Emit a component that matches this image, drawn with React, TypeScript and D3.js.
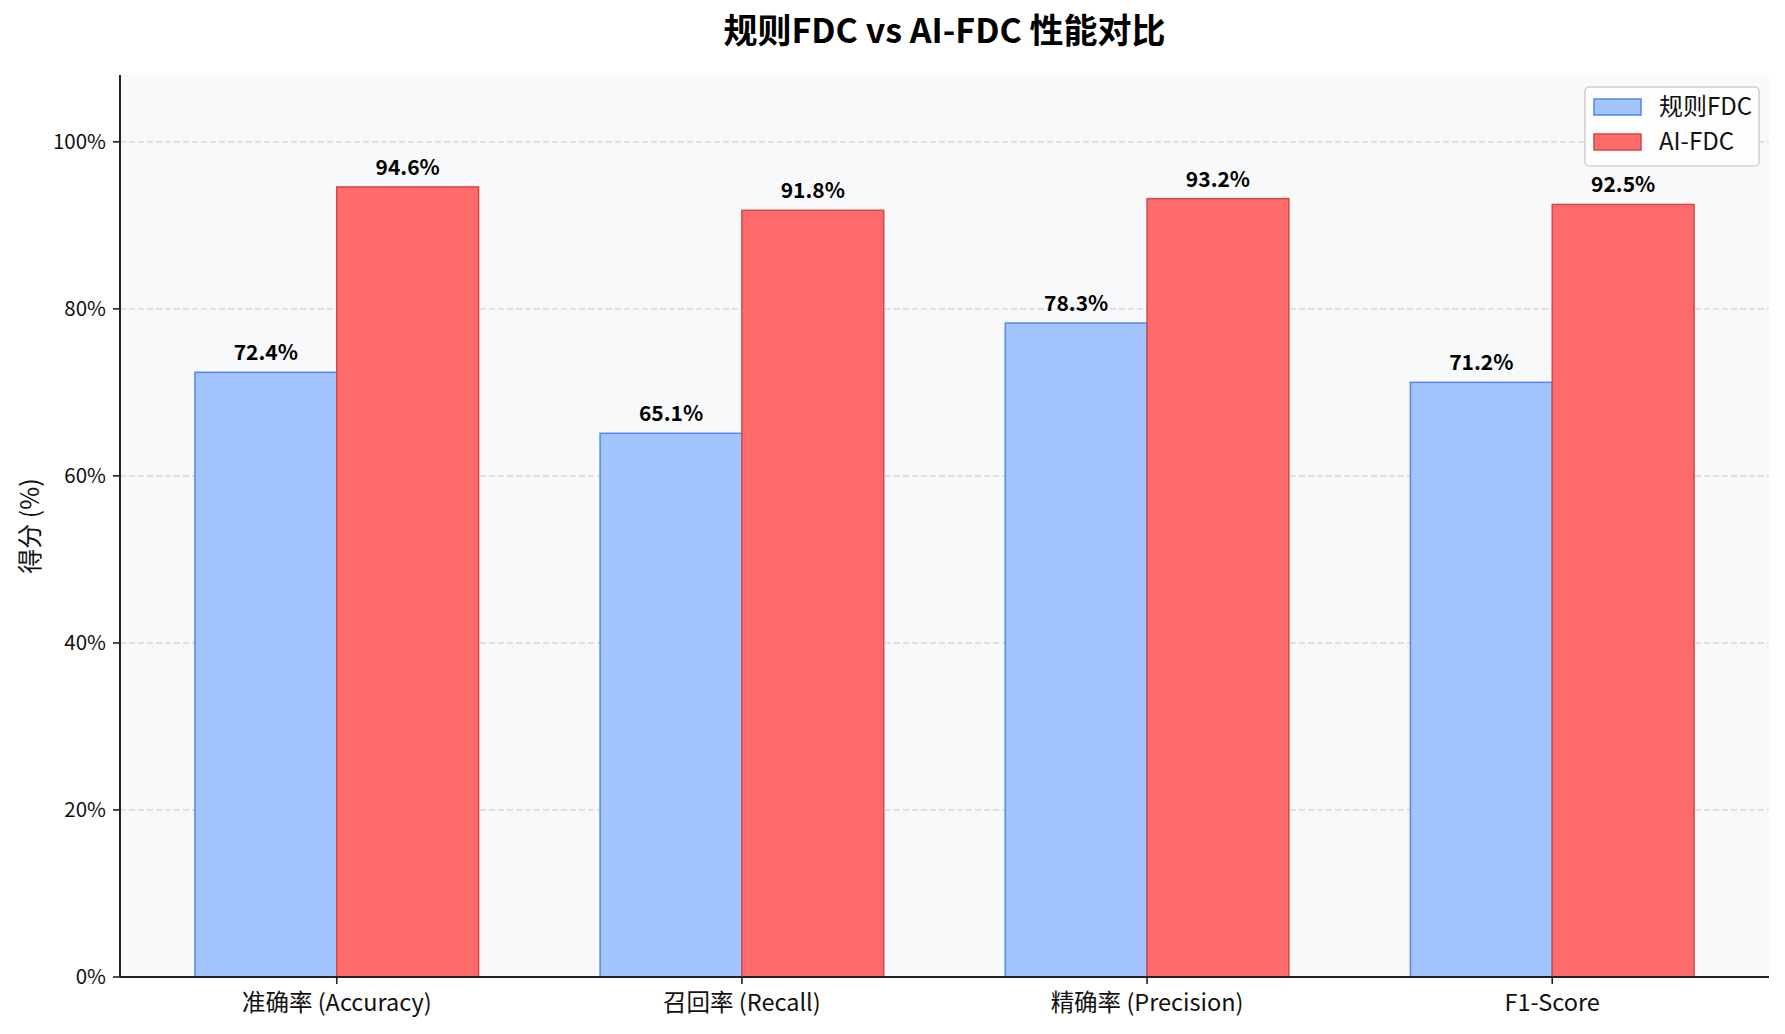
import React, { useEffect, useRef } from 'react';
import * as d3 from 'd3';

const categories = ['准确率 (Accuracy)', '召回率 (Recall)', '精确率 (Precision)', 'F1-Score'];
const ruleValues = [72.4, 65.1, 78.3, 71.2];
const aiValues = [94.6, 91.8, 93.2, 92.5];
const seriesNames = ['规则FDC', 'AI-FDC'];
const yTicks = [0, 20, 40, 60, 80, 100];

const FONT = '"Noto Sans CJK SC", "Noto Sans", sans-serif';
const BLUE = { fill: '#A2C4FF', stroke: '#4F86F0' };
const RED = { fill: '#FF6B6B', stroke: '#D04848' };

export default function App() {
  const svgRef = useRef<SVGSVGElement>(null);

  useEffect(() => {
    if (!svgRef.current) return;
    const width = 1785;
    const height = 1034;
    const margin = { left: 120, right: 16, top: 75, bottom: 57 };
    const barW = 0.35;

    const svg = d3.select(svgRef.current);
    svg.selectAll('*').remove();
    svg.attr('width', width).attr('height', height);

    svg.append('rect').attr('width', width).attr('height', height).attr('fill', '#ffffff');

    // escalas
    const x = d3.scaleLinear()
      .domain([-0.535, categories.length - 1 + 0.535])
      .range([margin.left, width - margin.right]);
    const y = d3.scaleLinear()
      .domain([0, 108])
      .range([height - margin.bottom, margin.top]);

    // fondo del área
    svg.append('rect')
      .attr('x', x.range()[0])
      .attr('y', margin.top)
      .attr('width', x.range()[1] - x.range()[0])
      .attr('height', y(0) - margin.top)
      .attr('fill', '#F8F9FA');

    // rejilla
    svg.append('g')
      .selectAll('line')
      .data(yTicks)
      .join('line')
      .attr('x1', x.range()[0])
      .attr('x2', x.range()[1])
      .attr('y1', d => y(d))
      .attr('y2', d => y(d))
      .attr('stroke', '#cfd2d6')
      .attr('stroke-width', 1.2)
      .attr('stroke-dasharray', '6,3');

    // barras
    const series = [
      { values: ruleValues, color: BLUE, offset: -barW / 2 },
      { values: aiValues, color: RED, offset: barW / 2 },
    ];
    series.forEach(s => {
      const g = svg.append('g');
      g.selectAll('rect')
        .data(s.values)
        .join('rect')
        .attr('x', (_, i) => x(i + s.offset - barW / 2))
        .attr('y', d => y(d))
        .attr('width', x(barW) - x(0))
        .attr('height', d => y(0) - y(d))
        .attr('fill', s.color.fill)
        .attr('stroke', s.color.stroke)
        .attr('stroke-width', 1.5);

      g.selectAll('text')
        .data(s.values)
        .join('text')
        .attr('x', (_, i) => x(i + s.offset))
        .attr('y', d => y(d) - 12)
        .attr('text-anchor', 'middle')
        .attr('font-family', FONT)
        .attr('font-weight', 'bold')
        .attr('font-size', 21)
        .attr('fill', '#000')
        .text(d => `${d.toFixed(1)}%`);
    });

    // ejes
    const xAxis = svg.append('g').attr('transform', `translate(0,${y(0)})`);
    xAxis.append('line')
      .attr('x1', x.range()[0]).attr('x2', x.range()[1])
      .attr('stroke', '#222').attr('stroke-width', 2);
    categories.forEach((c, i) => {
      xAxis.append('line')
        .attr('x1', x(i)).attr('x2', x(i)).attr('y1', 0).attr('y2', 7)
        .attr('stroke', '#222').attr('stroke-width', 1.6);
      xAxis.append('text')
        .attr('x', x(i)).attr('y', 34)
        .attr('text-anchor', 'middle')
        .attr('font-family', FONT)
        .attr('font-size', 23.5)
        .attr('fill', '#111')
        .text(c);
    });

    const yAxis = svg.append('g').attr('transform', `translate(${x.range()[0]},0)`);
    yAxis.append('line')
      .attr('y1', margin.top).attr('y2', y(0))
      .attr('stroke', '#222').attr('stroke-width', 2);
    yTicks.forEach(t => {
      yAxis.append('line')
        .attr('x1', -7).attr('x2', 0).attr('y1', y(t)).attr('y2', y(t))
        .attr('stroke', '#222').attr('stroke-width', 1.6);
      yAxis.append('text')
        .attr('x', -14).attr('y', y(t))
        .attr('dy', '0.35em')
        .attr('text-anchor', 'end')
        .attr('font-family', FONT)
        .attr('font-size', 20.5)
        .attr('fill', '#111')
        .text(`${t}%`);
    });

    svg.append('text')
      .attr('transform', `translate(30,${(margin.top + y(0)) / 2}) rotate(-90)`)
      .attr('text-anchor', 'middle')
      .attr('dy', '0.35em')
      .attr('font-family', FONT)
      .attr('font-size', 25)
      .attr('fill', '#111')
      .text('得分 (%)');

    // título
    svg.append('text')
      .attr('x', (x.range()[0] + x.range()[1]) / 2)
      .attr('y', 43)
      .attr('text-anchor', 'middle')
      .attr('font-family', FONT)
      .attr('font-weight', 'bold')
      .attr('font-size', 34)
      .attr('fill', '#000')
      .text('规则FDC vs AI-FDC 性能对比');

    // leyenda
    const legend = svg.append('g').attr('transform', 'translate(1585,87)');
    legend.append('rect')
      .attr('width', 174).attr('height', 79).attr('rx', 4)
      .attr('fill', '#ffffff').attr('fill-opacity', 0.85)
      .attr('stroke', '#d0d0d0').attr('stroke-width', 1.5);
    [BLUE, RED].forEach((c, i) => {
      legend.append('rect')
        .attr('x', 9).attr('y', 12 + i * 35)
        .attr('width', 47).attr('height', 16)
        .attr('fill', c.fill).attr('stroke', c.stroke).attr('stroke-width', 1.5);
      legend.append('text')
        .attr('x', 74).attr('y', 20 + i * 35)
        .attr('dy', '0.35em')
        .attr('font-family', FONT)
        .attr('font-size', 24)
        .attr('fill', '#111')
        .text(seriesNames[i]);
    });
  }, []);

  return <svg ref={svgRef} style={{ position: 'absolute', left: 0, top: 0, display: 'block' }} />;
}
